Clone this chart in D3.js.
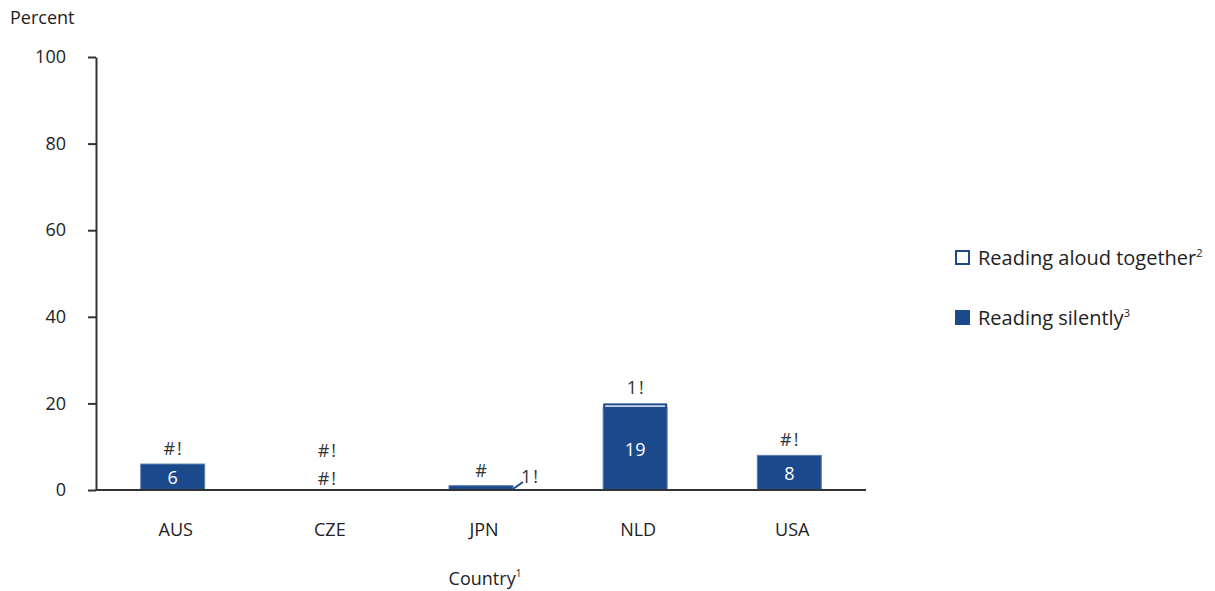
<!DOCTYPE html>
<html>
<head>
<meta charset="utf-8">
<script src="https://cdn.jsdelivr.net/npm/d3@7"></script>
<style>
  body { margin: 0; background: #fff; }
  svg, svg text { font-family: "Open Sans", "Noto Sans", sans-serif; }
</style>
</head>
<body>
<div id="chart"></div>
<script>
// chart values
const countries = ["AUS", "CZE", "JPN", "NLD", "USA"];
const silentValues = [6, 0, 1, 19, 8];
const aloudValues = [0, 0, 0, 1, 0];
const silentLabels = ["6", "#!", "1!", "19", "8"];
const aloudLabels = ["#!", "#!", "#", "1!", "#!"];
const yTicks = [0, 20, 40, 60, 80, 100];
const seriesNames = ["Reading aloud together", "Reading silently"];
const seriesSups = ["2", "3"];

const blue = "#1b4a8c";
const ink = "#333";

const width = 1215, height = 591;
const margin = { top: 57, left: 96, right: 349, bottom: 101 };

const svg = d3.select("#chart").append("svg")
  .attr("width", width)
  .attr("height", height);

const x = d3.scaleBand()
  .domain(countries)
  .range([margin.left, width - margin.right])
  .paddingInner(0.585)
  .paddingOuter(0.29);

const y = d3.scaleLinear()
  .domain([0, 100])
  .range([height - margin.bottom, margin.top]);

// y axis
const yAxis = svg.append("g")
  .attr("transform", `translate(${margin.left},0)`)
  .call(d3.axisLeft(y).tickValues(yTicks).tickSize(8).tickPadding(22).tickSizeOuter(0))
  .attr("font-family", null);
yAxis.select(".domain").attr("stroke", ink).attr("stroke-width", 2);
yAxis.selectAll(".tick line").attr("stroke", ink).attr("stroke-width", 2);
yAxis.selectAll(".tick text").attr("fill", "#222").style("font-size", "18px");

// bars
const data = countries.map((c, i) => ({
  c, s: silentValues[i], a: aloudValues[i], sl: silentLabels[i], al: aloudLabels[i]
}));

svg.append("g").selectAll("rect")
  .data(data.filter(d => d.s > 0))
  .join("rect")
  .attr("x", d => x(d.c))
  .attr("width", x.bandwidth())
  .attr("y", d => y(d.s))
  .attr("height", d => y(0) - y(d.s))
  .attr("fill", blue)
  .attr("stroke", "#5a7db0")
  .attr("stroke-width", 1);

svg.append("g").selectAll("rect")
  .data(data.filter(d => d.a > 0))
  .join("rect")
  .attr("x", d => x(d.c) + 1)
  .attr("width", x.bandwidth() - 2)
  .attr("y", d => y(d.s + d.a) + 1)
  .attr("height", d => y(d.s) - y(d.s + d.a) - 1)
  .attr("fill", "#fff")
  .attr("stroke", blue)
  .attr("stroke-width", 2);

// x axis
const xAxis = svg.append("g")
  .attr("transform", `translate(0,${y(0)})`)
  .call(d3.axisBottom(x).tickSize(0).tickPadding(33))
  .attr("font-family", null);
xAxis.select(".domain").attr("stroke", ink).attr("stroke-width", 2)
  .attr("d", `M${margin.left},0H${width - margin.right}`);
xAxis.selectAll(".tick text").attr("fill", "#222").style("font-size", "18px");
xAxis.selectAll(".tick").attr("transform", d => `translate(${x(d) + x.bandwidth() / 2 + 3},0)`);

// value labels
const labels = svg.append("g").style("font-size", "18px").attr("text-anchor", "middle")
  .style("letter-spacing", "2px");

data.forEach(d => {
  const cx = x(d.c) + x.bandwidth() / 2;
  let silentTop;
  if (d.s >= 3) {
    labels.append("text")
      .attr("x", cx).attr("y", (y(d.s) + y(0)) / 2 + 7)
      .attr("fill", "#fff").style("letter-spacing", "0px")
      .text(d.sl);
    silentTop = y(d.s);
  } else if (d.s === 0) {
    labels.append("text")
      .attr("x", cx + 1).attr("y", y(0) - 5)
      .attr("fill", ink).text(d.sl);
    silentTop = y(0) - 24;
  } else {
    // small bar: label to the right with a leader line
    const x1 = x(d.c) + x.bandwidth();
    svg.append("line")
      .attr("x1", x1).attr("y1", y(0) - 1)
      .attr("x2", x1 + 10).attr("y2", y(0) - 8)
      .attr("stroke", blue).attr("stroke-width", 2);
    labels.append("text")
      .attr("x", x1 + 8).attr("y", y(0) - 7)
      .attr("text-anchor", "start")
      .attr("fill", ink).text(d.sl);
    silentTop = y(d.s + d.a);
  }
  const top = Math.min(silentTop, y(d.s + d.a));
  labels.append("text")
    .attr("x", cx + 1).attr("y", top - 9)
    .attr("fill", ink).text(d.al);
});

// axis titles
svg.append("text")
  .attr("x", 10).attr("y", 24)
  .attr("fill", "#222").style("font-size", "18px")
  .text("Percent");

const xt = svg.append("text")
  .attr("x", 485)
  .attr("y", 585)
  .attr("text-anchor", "middle")
  .attr("fill", "#222").style("font-size", "18px");
xt.append("tspan").text("Country");
xt.append("tspan").attr("dy", -8).style("font-size", "10px").text("1");

// legend
const legend = svg.append("g").attr("transform", "translate(955,250)");
seriesNames.forEach((name, i) => {
  const g = legend.append("g").attr("transform", `translate(0,${i * 60})`);
  g.append("rect")
    .attr("x", i === 0 ? 1 : 0).attr("y", i === 0 ? 1 : 0)
    .attr("width", i === 0 ? 13 : 15).attr("height", i === 0 ? 13 : 15)
    .attr("fill", i === 0 ? "#fff" : blue)
    .attr("stroke", i === 0 ? blue : "none")
    .attr("stroke-width", 2);
  const t = g.append("text")
    .attr("x", 23).attr("y", 15)
    .attr("fill", "#222").style("font-size", "20px");
  t.append("tspan").text(name);
  t.append("tspan").attr("dy", -8).style("font-size", "11px").text(seriesSups[i]);
});
</script>
</body>
</html>
